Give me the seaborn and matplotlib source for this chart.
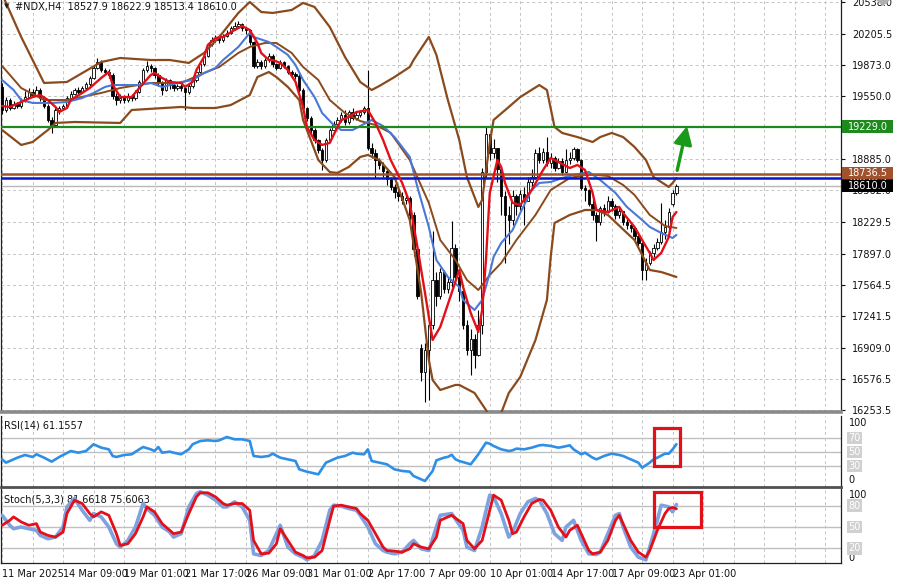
import numpy as np
import pandas as pd
import matplotlib
matplotlib.use("Agg")
import matplotlib.pyplot as plt
import seaborn as sns
from matplotlib.transforms import blended_transform_factory as btf
from matplotlib.patches import Rectangle, Polygon

sns.set_theme(style="white")
plt.rcParams['font.family'] = ['DejaVu Sans']

# ---------------- data ----------------
closes = [19400, 19509, 19425, 19467, 19446, 19509, 19540, 19593, 19561, 19614,
          19530, 19446, 19300, 19250, 19404, 19425, 19446, 19530, 19572, 19614,
          19593, 19635, 19677, 19740, 19845, 19908, 19824, 19803, 19771, 19551,
          19509, 19530, 19509, 19551, 19530, 19593, 19698, 19824, 19866, 19845,
          19771, 19698, 19614, 19719, 19666, 19635, 19656, 19635, 19593, 19656,
          19719, 19803, 19887, 19971, 20097, 20139, 20160, 20139, 20181, 20213,
          20265, 20286, 20307, 20265, 20244, 20118, 19866, 19908, 19866, 19929,
          19971, 19887, 19845, 19908, 19866, 19803, 19782, 19761, 19614, 19425,
          19320, 19194, 19089, 18984, 18879, 19089, 19194, 19257, 19299, 19351,
          19278, 19383, 19320, 19351, 19383, 19425, 19005, 18950, 18880, 18830,
          18760, 18680, 18600, 18540, 18500, 18460, 18480, 18300, 17940, 17450,
          16650, 16880, 17150, 17620, 17450, 17700, 17520, 17600, 17950, 17650,
          17500, 17150, 16880, 17000, 16830, 17150, 18750, 19150, 18950, 19000,
          18780, 18500, 18300, 18250, 18500, 18400, 18520, 18450, 18650, 18700,
          18950, 18880, 18960, 18850, 18900, 18800, 18870, 18750, 18880, 18900,
          18990, 18880, 18580, 18560, 18420, 18300, 18230, 18380, 18330, 18450,
          18400, 18300, 18340, 18230, 18200, 18160, 18080, 18010, 17720, 17800,
          17900, 17960, 18020, 18120, 18180, 18330, 18528, 18610.0]
highs = [19690, 19540, 19530, 19500, 19490, 19530, 19600, 19640, 19620, 19660,
         19630, 19550, 19470, 19330, 19430, 19450, 19470, 19550, 19600, 19640,
         19650, 19660, 19700, 19760, 19870, 19950, 19930, 19850, 19830, 19790,
         19580, 19570, 19560, 19580, 19570, 19610, 19720, 19850, 19920, 19890,
         19860, 19790, 19710, 19740, 19730, 19690, 19680, 19680, 19650, 19680,
         19740, 19820, 19900, 19990, 20110, 20170, 20190, 20180, 20200, 20240,
         20290, 20330, 20340, 20320, 20280, 20250, 20130, 19940, 19930, 19950,
         20000, 19990, 19900, 19930, 19920, 19880, 19820, 19800, 19780, 19630,
         19440, 19340, 19210, 19100, 19000, 19110, 19220, 19290, 19330, 19380,
         19400, 19400, 19420, 19380, 19400, 19450, 19824, 19060, 18990, 18900,
         18860, 18790, 18700, 18630, 18580, 18540, 18520, 18500, 18330, 17980,
         16950, 16960, 17200, 18130, 17700, 17750, 17720, 17650, 18240, 18000,
         17700, 17520, 17200, 17100, 17050, 17300, 18800, 19240, 19150, 19100,
         19000, 18800, 18550, 18400, 18560, 18520, 18560, 18600, 18700, 18780,
         18990, 19020, 19000, 19120, 18950, 18920, 18900, 18900, 18990, 18960,
         19020, 19000, 18890, 18620, 18570, 18470, 18330, 18400, 18420, 18500,
         18480, 18420, 18380, 18340, 18260, 18230, 18170, 18100, 18020, 17850,
         17920, 18000, 18060, 18430, 18250, 18370, 18560, 18622.9]
lows = [19360, 19380, 19400, 19410, 19420, 19430, 19490, 19530, 19540, 19550,
        19500, 19420, 19280, 19160, 19240, 19360, 19400, 19430, 19510, 19560,
        19570, 19580, 19620, 19660, 19730, 19830, 19800, 19780, 19740, 19520,
        19460, 19480, 19480, 19490, 19500, 19510, 19580, 19690, 19800, 19800,
        19740, 19660, 19560, 19600, 19620, 19600, 19610, 19600, 19400, 19570,
        19640, 19700, 19790, 19870, 19960, 20080, 20120, 20110, 20120, 20170,
        20200, 20240, 20260, 20230, 20200, 20090, 19840, 19850, 19830, 19850,
        19910, 19860, 19820, 19830, 19840, 19780, 19750, 19730, 19590, 19400,
        19290, 19160, 19060, 18950, 18770, 18860, 19070, 19180, 19240, 19280,
        19250, 19260, 19300, 19300, 19330, 19360, 18980, 18900, 18690, 18780,
        18700, 18620, 18560, 18480, 18450, 18420, 18420, 18250, 17870, 17420,
        16560, 16340, 16360, 17100, 17350, 17420, 17480, 17480, 17550, 17600,
        17400, 17100, 16830, 16620, 16700, 16820, 17050, 18700, 18880, 18900,
        18650, 18300, 17800, 18000, 18200, 18300, 18350, 18200, 18450, 18600,
        18680, 18850, 18850, 18820, 18800, 18760, 18780, 18720, 18740, 18840,
        18880, 18860, 18560, 18450, 18400, 18250, 18030, 18200, 18290, 18320,
        18340, 18260, 18270, 18200, 18150, 18120, 18040, 17980, 17620, 17620,
        17780, 17860, 17930, 18000, 18050, 18120, 18400, 18513.4]
# opens follow the previous close except at these gaps
gap_opens = {0: 19650, 110: 16900, 176: 18420, 177: 18527.9}

# moving averages / Bollinger bands, sampled at bar indices
red_ma_x = [0, 2, 5, 8, 10, 12, 14, 15, 17, 18, 21, 23, 26, 28, 29, 31, 34, 36, 39, 40,
            42, 44, 47, 48, 50, 51, 53, 54, 56, 58, 61, 63, 65, 67, 68, 70, 71, 73, 75, 77,
            79, 80, 82, 84, 86, 87, 89, 91, 93, 96, 98, 100, 102, 105, 107, 109, 111, 113, 115, 118,
            120, 121, 123, 125, 126, 127, 128, 130, 131, 132, 134, 136, 139, 142, 144, 146, 149, 151, 153, 155,
            156, 159, 162, 163, 166, 168, 170, 171, 173, 175, 176, 177]
red_ma_y = [19446, 19436, 19488, 19540, 19561, 19509, 19436, 19383, 19425, 19509, 19583, 19635, 19740, 19803, 19670, 19540, 19540, 19635, 19771, 19792,
            19740, 19698, 19688, 19646, 19698, 19824, 19961, 20087, 20160, 20171, 20244, 20286, 20244, 20108, 20003, 19929, 19929, 19898, 19824, 19700,
            19436, 19226, 19089, 19037, 19058, 19142, 19299, 19330, 19383, 19404, 19268, 19089, 18879, 18638, 18428, 17966, 17483, 16990, 17126, 17483,
            17724, 17546, 17273, 17073, 17304, 17829, 18533, 18879, 18806, 18638, 18428, 18407, 18564, 18774, 18900, 18858, 18795, 18827, 18774, 18533,
            18354, 18333, 18386, 18323, 18176, 18039, 17903, 17829, 17903, 18071, 18281, 18333]
blue_ma_x = [0, 3, 5, 8, 13, 17, 21, 24, 27, 29, 31, 36, 39, 42, 44, 47, 50, 53, 56, 58,
             62, 65, 66, 70, 72, 75, 77, 79, 82, 84, 87, 89, 92, 94, 97, 100, 103, 107, 109, 112,
             114, 117, 120, 121, 124, 126, 128, 129, 131, 134, 136, 139, 141, 144, 147, 150, 154, 157, 161, 164,
             168, 170, 173, 176, 177]
blue_ma_y = [19719, 19614, 19509, 19478, 19478, 19488, 19530, 19583, 19646, 19666, 19666, 19666, 19688, 19646, 19666, 19698, 19719, 19792, 19845, 19929,
             20066, 20213, 20171, 20118, 20066, 19982, 19877, 19719, 19540, 19372, 19247, 19194, 19194, 19236, 19299, 19236, 19120, 18911, 18596, 18176,
             17829, 17651, 17546, 17409, 17304, 17409, 17693, 17861, 18008, 18144, 18323, 18564, 18638, 18648, 18690, 18722, 18753, 18669, 18533, 18386,
             18249, 18176, 18113, 18060, 18092]
bb_up_x = [0, 5, 11, 17, 26, 31, 39, 44, 49, 53, 57, 62, 65, 68, 71, 76, 79, 82, 86, 90,
           94, 97, 99, 103, 107, 108, 112, 114, 117, 120, 122, 125, 126, 128, 129, 133, 136, 141, 143, 145,
           147, 151, 155, 157, 160, 163, 166, 169, 171, 175, 176, 177]
bb_up_y = [20620, 20171, 19688, 19698, 19908, 19950, 19929, 19929, 19898, 20003, 20171, 20423, 20538, 20433, 20423, 20454, 20528, 20486, 20276, 19961,
           19698, 19614, 19656, 19750, 19856, 19929, 20171, 19982, 19509, 19089, 18700, 18386, 18459, 19058, 19299, 19436, 19540, 19666, 19614, 19226,
           19163, 19120, 19068, 19120, 19163, 19120, 19016, 18879, 18700, 18596, 18638, 18690]
bb_mid_x = [0, 5, 11, 17, 26, 31, 39, 47, 53, 57, 62, 65, 69, 72, 76, 79, 83, 86, 90, 94,
            98, 102, 107, 112, 115, 119, 122, 125, 128, 131, 135, 140, 144, 149, 153, 156, 159, 163, 166, 170,
            174, 177]
bb_mid_y = [19866, 19635, 19509, 19509, 19583, 19635, 19688, 19688, 19792, 19856, 20003, 20066, 20108, 20108, 20003, 19856, 19719, 19509, 19372, 19288,
            19247, 19163, 18879, 18428, 18039, 17829, 17619, 17514, 17672, 17798, 18039, 18302, 18564, 18690, 18722, 18722, 18711, 18617, 18512, 18302,
            18186, 18165]
bb_low_x = [0, 5, 8, 12, 14, 19, 31, 34, 47, 50, 56, 60, 65, 67, 70, 72, 75, 78, 79, 81,
            83, 86, 88, 91, 94, 96, 99, 103, 107, 110, 112, 113, 115, 119, 120, 124, 127, 129, 131, 133,
            136, 140, 143, 144, 145, 149, 153, 156, 159, 164, 166, 170, 173, 177]
bb_low_y = [19194, 19037, 19068, 19194, 19268, 19278, 19268, 19404, 19436, 19425, 19425, 19456, 19561, 19750, 19803, 19750, 19646, 19509, 19299, 19089,
            18879, 18753, 18743, 18806, 18911, 18932, 18879, 18700, 18249, 17483, 16779, 16569, 16464, 16517, 16517, 16433, 16254, 16097, 16223, 16433,
            16601, 16989, 17409, 17861, 18218, 18302, 18354, 18354, 18302, 18113, 18039, 17724, 17703, 17651]

# RSI(14)
rsi_x = [0, 1, 2, 4, 6, 8, 9, 11, 13, 15, 16, 18, 20, 22, 23, 24, 26, 28, 29, 30,
         32, 34, 36, 37, 39, 40, 41, 42, 44, 45, 47, 49, 50, 52, 54, 56, 57, 59, 61, 63,
         65, 66, 68, 70, 71, 73, 75, 77, 78, 80, 83, 85, 86, 88, 90, 92, 93, 95, 96, 97,
         99, 101, 103, 105, 107, 108, 111, 113, 114, 116, 117, 118, 119, 120, 123, 124, 125, 127, 128, 129,
         131, 133, 134, 135, 137, 139, 141, 142, 144, 146, 147, 149, 150, 152, 153, 155, 156, 158, 160, 162,
         163, 165, 167, 168, 170, 171, 172, 174, 175, 176, 177]
rsi_y = [39.5, 34.8, 37.1, 41.9, 45.7, 42.9, 46.7, 41.9, 36.2, 42.9, 45.7, 51.4, 49.0, 51.4, 56.2, 61.0, 56.2, 53.8, 44.3, 42.9,
         45.7, 46.7, 53.8, 57.1, 53.8, 51.4, 57.1, 49.0, 50.5, 49.0, 46.7, 53.8, 61.0, 65.7, 66.7, 65.7, 66.7, 71.4, 68.1, 68.1,
         65.7, 44.3, 42.9, 44.3, 47.6, 41.9, 39.5, 37.1, 25.2, 21.9, 18.1, 34.8, 37.1, 41.9, 44.3, 49.0, 47.6, 46.7, 53.8, 37.1,
         34.8, 32.4, 25.2, 22.9, 21.9, 15.7, 8.6, 22.9, 38.1, 41.9, 43.0, 46.0, 39.5, 37.1, 32.4, 39.5, 46.7, 63.3, 61.9, 58.6,
         53.8, 51.4, 52.4, 54.8, 53.8, 56.2, 59.5, 60.0, 58.6, 56.2, 57.1, 59.5, 53.8, 46.7, 49.0, 41.9, 39.5, 44.3, 47.6, 45.7,
         44.3, 39.5, 34.8, 27.6, 34.8, 39.5, 41.9, 47.6, 47.6, 53.8, 61.1557]

# Stochastic(5,3,3): %K (main) and %D (signal)
stk_x = [0, 2, 3, 5, 7, 9, 10, 12, 14, 16, 17, 19, 21, 23, 24, 26, 28, 30, 31, 33,
         35, 37, 38, 40, 42, 44, 45, 47, 49, 51, 52, 54, 56, 58, 59, 61, 63, 65, 66, 68,
         70, 72, 73, 75, 77, 79, 80, 82, 84, 86, 87, 89, 91, 93, 94, 96, 98, 100, 101, 103,
         105, 107, 108, 110, 112, 114, 115, 118, 121, 122, 124, 126, 128, 129, 131, 133, 134, 136, 138, 140,
         141, 143, 145, 147, 148, 150, 152, 154, 156, 157, 159, 161, 162, 163, 165, 167, 169, 170, 172, 173,
         175, 176, 177]
stk_y = [66.5, 52.4, 47.6, 50.0, 47.6, 45.3, 38.2, 33.5, 35.8, 50.0, 78.3, 90.2, 73.6, 59.4, 68.9, 64.2, 50.0, 26.4, 21.7, 31.1,
         50.0, 83.1, 76.0, 66.5, 50.0, 42.9, 35.8, 40.6, 78.3, 97.2, 99.6, 94.9, 87.8, 78.3, 78.3, 85.4, 78.3, 59.4, 12.2, 9.8,
         16.9, 40.6, 52.4, 21.7, 12.2, 7.5, 3.7, 9.8, 31.1, 73.6, 80.7, 79.3, 76.0, 73.6, 66.5, 50.0, 26.4, 16.9, 14.6, 12.2,
         14.6, 26.4, 31.1, 19.3, 16.9, 50.0, 66.5, 68.9, 45.3, 21.7, 16.9, 50.0, 94.9, 92.5, 68.9, 35.8, 42.9, 68.9, 85.4, 90.2,
         87.8, 68.9, 40.6, 31.1, 50.0, 59.4, 31.1, 12.2, 11.3, 14.6, 40.6, 66.5, 68.9, 50.0, 21.7, 7.5, 3.7, 21.7, 59.4, 80.7,
         78.3, 71.3, 81.6618]
std_x = [0, 2, 3, 5, 7, 9, 10, 12, 14, 16, 17, 19, 21, 23, 24, 26, 28, 30, 31, 33,
         35, 37, 38, 40, 42, 44, 45, 47, 49, 51, 52, 54, 56, 58, 59, 61, 63, 65, 66, 68,
         70, 72, 73, 75, 77, 79, 80, 82, 84, 86, 87, 89, 91, 93, 94, 96, 98, 100, 101, 103,
         105, 107, 108, 110, 112, 114, 115, 118, 121, 122, 124, 126, 128, 129, 131, 133, 134, 135, 137, 139,
         141, 142, 144, 146, 148, 149, 151, 152, 154, 155, 157, 159, 161, 162, 163, 165, 167, 169, 170, 172,
         174, 175, 176, 177]
std_y = [52.4, 59.4, 64.2, 57.1, 52.4, 54.7, 42.9, 38.2, 35.8, 42.9, 68.9, 87.8, 83.1, 68.9, 64.2, 71.3, 66.5, 40.6, 24.0, 26.4,
         40.6, 64.2, 78.3, 71.3, 54.7, 45.3, 40.6, 42.9, 68.9, 92.5, 98.2, 98.2, 92.5, 83.1, 80.7, 83.1, 83.1, 73.6, 31.1, 12.2,
         13.2, 26.4, 47.6, 31.1, 14.6, 9.8, 6.5, 7.5, 16.9, 59.4, 79.3, 80.7, 78.3, 76.0, 68.9, 59.4, 40.6, 21.7, 16.9, 16.0,
         14.6, 19.3, 26.4, 21.7, 19.3, 35.8, 59.4, 66.5, 54.7, 31.1, 19.3, 31.1, 73.6, 94.9, 87.8, 59.4, 40.6, 42.9, 64.2, 83.1,
         88.7, 87.8, 73.6, 50.0, 35.8, 45.3, 52.4, 40.6, 16.9, 12.2, 14.6, 31.1, 59.4, 66.5, 54.7, 31.1, 14.6, 7.5, 16.9, 45.3,
         68.9, 76.0, 77.5, 75.6063]

price_ticks = [20538.0, 20205.5, 19873.0, 19550.0, 19229.0, 18885.0, 18562.0, 18229.5,
               17897.0, 17564.5, 17241.5, 16909.0, 16576.5, 16253.5]
time_labels = ["11 Mar 2025", "14 Mar 09:00", "19 Mar 01:00", "21 Mar 17:00", "26 Mar 09:00",
               "31 Mar 01:00", "2 Apr 17:00", "7 Apr 09:00", "10 Apr 01:00", "14 Apr 17:00",
               "17 Apr 09:00", "23 Apr 01:00"]
resistance = 19229.0
level_brown = 18736.5
level_blue = 18690.3
bid = 18610.0
header = "#NDX,H4  18527.9 18622.9 18513.4 18610.0"

# ---------------- figure ----------------
fig = plt.figure(figsize=(9, 5.84), dpi=100)
fig.patch.set_facecolor("white")
W, H = 900.0, 584.0
L, R = 1 / W, 841 / W
ax = fig.add_axes([L, 1 - 412 / H, R - L, 412 / H])
ax_r = fig.add_axes([L, 1 - 487 / H, R - L, 71 / H])
ax_s = fig.add_axes([L, 1 - 563 / H, R - L, 74 / H])

n = len(closes)
idx = np.arange(n)
c = np.array(closes, float)
o = np.concatenate([[closes[0]], c[:-1]])
for k, v in gap_opens.items():
    o[k] = v
hi = np.maximum.reduce([np.array(highs, float), o, c])
lo = np.minimum.reduce([np.array(lows, float), o, c])

XMAX = 220.2
for a in (ax, ax_r, ax_s):
    a.set_xlim(-0.3, XMAX)
    a.set_facecolor("white")
    a.set_xticks(np.arange(0, 221, 8))
    a.grid(True, axis="x", color="#c4c4c4", linestyle=(0, (3, 3)), linewidth=0.7)
    a.set_axisbelow(True)
    a.tick_params(axis="x", length=0)
    for s in a.spines.values():
        s.set_color("#202020")
        s.set_linewidth(0.9)

# candles
ax.vlines(idx, lo, hi, color="black", linewidth=0.8, zorder=3)
up = c >= o
body_h = np.abs(c - o)
body_h = np.where(body_h < 8, 8, body_h)
ax.bar(idx[up], body_h[up], bottom=np.minimum(o, c)[up], width=0.62,
       color="white", edgecolor="black", linewidth=0.6, zorder=4)
ax.bar(idx[~up], body_h[~up], bottom=np.minimum(o, c)[~up], width=0.62,
       color="black", edgecolor="black", linewidth=0.6, zorder=4)

brown = "#8b4a1c"
sns.lineplot(x=bb_up_x, y=bb_up_y, ax=ax, color=brown, linewidth=1.6, legend=False, zorder=5)
sns.lineplot(x=bb_mid_x, y=bb_mid_y, ax=ax, color=brown, linewidth=1.4, legend=False, zorder=5)
sns.lineplot(x=bb_low_x, y=bb_low_y, ax=ax, color=brown, linewidth=1.6, legend=False, zorder=5)
sns.lineplot(x=blue_ma_x, y=blue_ma_y, ax=ax, color="#4a78d6", linewidth=1.5, legend=False, zorder=6)
sns.lineplot(x=red_ma_x, y=red_ma_y, ax=ax, color="#e3101a", linewidth=1.7, legend=False, zorder=7)

ax.axhline(resistance, color="#1e8a1e", linewidth=1.6, zorder=6)
ax.axhline(level_brown, color="#a0522d", linewidth=1.8, zorder=6)
ax.axhline(level_blue, color="#0a14c8", linewidth=1.8, zorder=6)
ax.axhline(bid, color="#b8b8b8", linewidth=1.0, zorder=2)

ax.set_ylim(16233, 20559)
ax.yaxis.tick_right()
ax.set_yticks(price_ticks)
ax.set_yticklabels(["" if p == resistance else f"{p:.1f}" for p in price_ticks], fontsize=7, color="#111111")
ax.tick_params(axis="y", direction="out", length=3, width=0.8, pad=5, colors="#111111")
ax.grid(True, axis="y", color="#c4c4c4", linestyle=(0, (3, 3)), linewidth=0.7)
ax.set_xticklabels([])
ax.set_xlabel("")
ax.set_ylabel("")
ax.spines["bottom"].set_color("#8a8a8a")
ax.spines["bottom"].set_linewidth(2.6)
ax.spines["top"].set_visible(False)

# price boxes on the right (fixed-width tags, as in the terminal)
tr = btf(ax.transAxes, ax.transData)
unit = (20559 - 16233) / 412.0          # price units per pixel
def price_tag(price, text, fc, zo):
    ax.add_patch(Rectangle((1.0014, price - 6.3 * unit), 0.0607, 12.6 * unit, transform=tr,
                           fc=fc, ec="none", clip_on=False, zorder=zo))
    ax.text(1.0318, price, text, transform=tr, fontsize=7, va="center", ha="center",
            color="white", zorder=zo + 0.5, clip_on=False)

price_tag(resistance, f"{resistance:.1f}", "#1e8a1e", 20)
price_tag(level_blue, f"{level_blue:.1f}", "#0a14f0", 20)
price_tag(level_brown + 5, f"{level_brown:.1f}", "#a0522d", 22)
price_tag(bid - 5, f"{bid:.1f}", "black", 24)

# green arrow
ax.annotate("", xy=(179.8, 19236), xytext=(177.2, 18770),
            arrowprops=dict(arrowstyle="-|>,head_width=0.45,head_length=0.9", color="#1a9a1a",
                            lw=2.4, shrinkA=0, shrinkB=0), zorder=15)

# header
fig.text(4 / W, 1 - 6 / H, "\u25BC", fontsize=5, va="center", ha="left", color="#222222")
fig.text(15 / W, 1 - 7 / H, header, fontsize=7, va="center", ha="left", color="#111111")
fig.patches.append(Polygon([[876 / W, 1.0], [890 / W, 1.0], [883 / W, 1 - 6 / H]], closed=True,
                           transform=fig.transFigure, fc="#b0b0b0", ec="none", zorder=30))

# RSI panel
sns.lineplot(x=rsi_x, y=rsi_y, ax=ax_r, color="#2f8fe6", linewidth=1.9, legend=False, zorder=5)
ax_r.set_ylim(0, 101.4)
for lv in (70, 50, 30):
    ax_r.axhline(lv, color="#c0c0c0", linewidth=1.0, zorder=1)
ax_r.set_yticks([])
ax_r.set_xticklabels([])
ax_r.set_xlabel("")
ax_r.set_ylabel("")
ax_r.spines["top"].set_visible(False)
ax_r.spines["bottom"].set_color("#505050")
ax_r.spines["bottom"].set_linewidth(2.0)
ax_r.text(0.004, 0.93, "RSI(14) 61.1557", transform=ax_r.transAxes, fontsize=7, va="top", ha="left", color="#111111")
trr = btf(ax_r.transAxes, ax_r.transData)
ax_r.text(1.009, 92, "100", transform=trr, fontsize=7, va="center", ha="left", color="#111111", clip_on=False)
ax_r.text(1.009, 10, "0", transform=trr, fontsize=7, va="center", ha="left", color="#111111", clip_on=False)
for lv in (70, 50, 30):
    ax_r.text(1.009, lv, str(lv), transform=trr, fontsize=7, va="center", ha="left", color="white",
              bbox=dict(boxstyle="square,pad=0.15", fc="#d0d0d0", ec="none"), clip_on=False)
ax_r.add_patch(Rectangle((171.1, 29.6), 6.9, 55.0, fill=False, ec="#e3101a", lw=2.3, zorder=10, clip_on=False))

# Stochastic panel
sns.lineplot(x=stk_x, y=stk_y, ax=ax_s, color="#7ea2e0", linewidth=2.6, legend=False, zorder=5)
sns.lineplot(x=std_x, y=std_y, ax=ax_s, color="#e3101a", linewidth=2.0, legend=False, zorder=6)
ax_s.set_ylim(-0.7, 103.5)
for lv in (80, 50, 20):
    ax_s.axhline(lv, color="#c0c0c0", linewidth=1.0, zorder=1)
ax_s.set_yticks([])
ax_s.set_xlabel("")
ax_s.set_ylabel("")
ax_s.spines["top"].set_visible(False)
ax_s.text(0.004, 0.93, "Stoch(5,3,3) 81.6618 75.6063", transform=ax_s.transAxes, fontsize=7, va="top",
          ha="left", color="#111111")
trs = btf(ax_s.transAxes, ax_s.transData)
ax_s.text(1.009, 95, "100", transform=trs, fontsize=7, va="center", ha="left", color="#111111", clip_on=False)
ax_s.text(1.009, 7, "0", transform=trs, fontsize=7, va="center", ha="left", color="#111111", clip_on=False)
for lv in (80, 50, 20):
    ax_s.text(1.009, lv, str(lv), transform=trs, fontsize=7, va="center", ha="left", color="white",
              bbox=dict(boxstyle="square,pad=0.15", fc="#d0d0d0", ec="none"), clip_on=False)
ax_s.add_patch(Rectangle((171.1, 50.0), 12.4, 48.6, fill=False, ec="#e3101a", lw=2.3, zorder=10, clip_on=False))

labels = []
for t in np.arange(0, 221, 8):
    j = t // 16
    labels.append(time_labels[j] if (t % 16 == 0 and j < len(time_labels)) else "")
ax_s.set_xticklabels(labels, fontsize=7, ha="left", color="#111111")
ax_s.tick_params(axis="x", length=0, pad=4)

fig.savefig("out.png", dpi=100, facecolor="white")
